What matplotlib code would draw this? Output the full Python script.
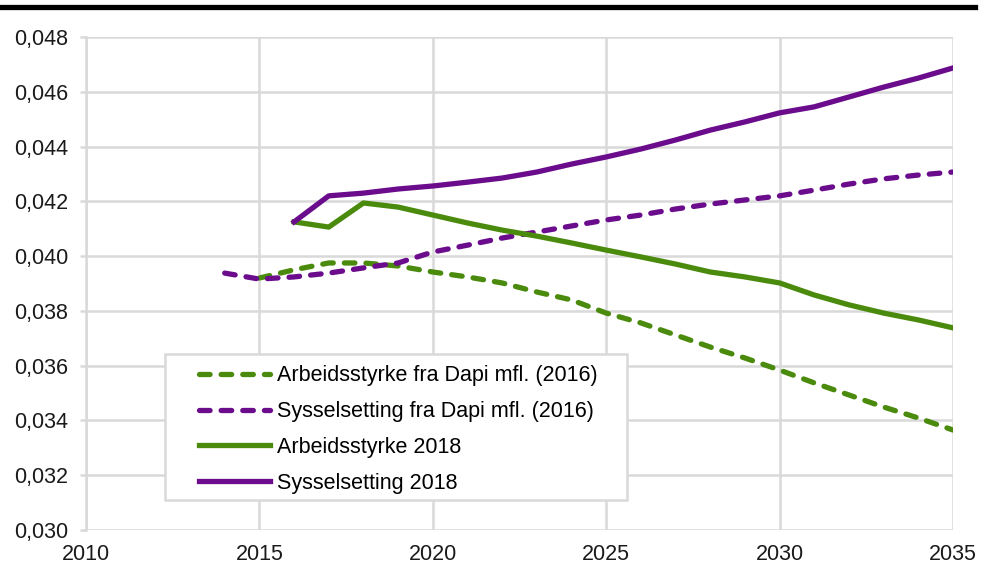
import matplotlib
matplotlib.use('Agg')
import matplotlib.pyplot as plt
from matplotlib.lines import Line2D
from matplotlib.patches import Rectangle
from matplotlib.ticker import FuncFormatter, MultipleLocator

plt.rcParams['font.family'] = ['Liberation Sans', 'DejaVu Sans']

# data
years_dapi_arb = list(range(2015, 2036))
arb_dapi = [0.0392, 0.0395, 0.03975, 0.03975, 0.03964, 0.03942, 0.03924, 0.03902,
            0.03869, 0.0384, 0.03792, 0.03756, 0.03712, 0.03668, 0.03628, 0.03584,
            0.03537, 0.03493, 0.03449, 0.03409, 0.03365]

years_dapi_sys = list(range(2014, 2036))
sys_dapi = [0.03938, 0.03916, 0.03924, 0.03938, 0.03957, 0.03975, 0.04015, 0.0404,
            0.04066, 0.04088, 0.0411, 0.04132, 0.0415, 0.04172, 0.0419, 0.04205,
            0.0422, 0.04241, 0.04263, 0.04282, 0.04296, 0.04307]

years_2018 = list(range(2016, 2036))
arb_2018 = [0.04125, 0.04106, 0.04194, 0.04179, 0.0415, 0.04121, 0.04095, 0.04073,
            0.04048, 0.04022, 0.03997, 0.03971, 0.03942, 0.03924, 0.03902, 0.03858,
            0.03822, 0.03792, 0.03767, 0.03738]
sys_2018 = [0.04125, 0.0422, 0.0423, 0.04245, 0.04256, 0.0427, 0.04285, 0.04307,
            0.04336, 0.04362, 0.04391, 0.04424, 0.0446, 0.0449, 0.04523, 0.04545,
            0.04581, 0.04617, 0.0465, 0.04687]

labels = ['Arbeidsstyrke fra Dapi mfl. (2016)',
          'Sysselsetting fra Dapi mfl. (2016)',
          'Arbeidsstyrke 2018',
          'Sysselsetting 2018']

green = '#4A8A0C'
purple = '#6A0C8C'
grid_col = '#D9D9D9'

W, H = 993, 569
fig = plt.figure(figsize=(W / 100, H / 100), dpi=100)
ax = fig.add_axes([86 / W, 1 - 530 / H, (953 - 86) / W, (530 - 37) / H])

lw = 3.8
dash = (0, (2.0, 2.1))
ax.plot(years_dapi_arb, arb_dapi, color=green, lw=lw, ls=dash,
        dash_capstyle='round', label=labels[0], zorder=3)
ax.plot(years_dapi_sys, sys_dapi, color=purple, lw=lw, ls=dash,
        dash_capstyle='round', label=labels[1], zorder=3)
ax.plot(years_2018, arb_2018, color=green, lw=lw, label=labels[2], zorder=3)
ax.plot(years_2018, sys_2018, color=purple, lw=lw, label=labels[3], zorder=3)

ax.set_xlim(2010, 2035)
ax.set_ylim(0.030, 0.048)
ax.xaxis.set_major_locator(MultipleLocator(5))
ax.yaxis.set_major_locator(MultipleLocator(0.002))
ax.yaxis.set_major_formatter(FuncFormatter(lambda v, p: f'{v:.3f}'.replace('.', ',')))

ax.set_axisbelow(True)
ax.grid(True, color=grid_col, lw=1.8)
for s in ['top', 'right', 'bottom']:
    ax.spines[s].set_visible(False)
ax.spines['left'].set_color(grid_col)
ax.spines['left'].set_linewidth(1.8)
ax.tick_params(axis='y', length=4, width=1.8, color=grid_col, pad=9,
               labelsize=15.5, labelcolor='#1A1A1A')
ax.tick_params(axis='x', length=0, pad=10, labelsize=15.5, labelcolor='#1A1A1A')

# legend frame drawn by hand (wide side padding like the original)
box = Rectangle((165 / W, 1 - 500 / H), (627 - 165) / W, (500 - 354) / H,
                transform=fig.transFigure, facecolor='white', edgecolor=grid_col,
                lw=1.8, zorder=4, clip_on=False)
ax.add_patch(box)
leg = ax.legend(loc='upper left', bbox_to_anchor=(195 / W, 1 - 361 / H),
                bbox_transform=fig.transFigure, frameon=False, fontsize=15.5,
                handlelength=3.3, handletextpad=0.3, labelspacing=0.69,
                borderaxespad=0, borderpad=0.2)
leg.set_zorder(5)

# thick rule at the top (the title above it is cut off)
fig.add_artist(Line2D([0, 975 / W], [1 - 7 / H, 1 - 7 / H], color='black', lw=3.8,
                      transform=fig.transFigure))

fig.savefig('out.png', dpi=100)
